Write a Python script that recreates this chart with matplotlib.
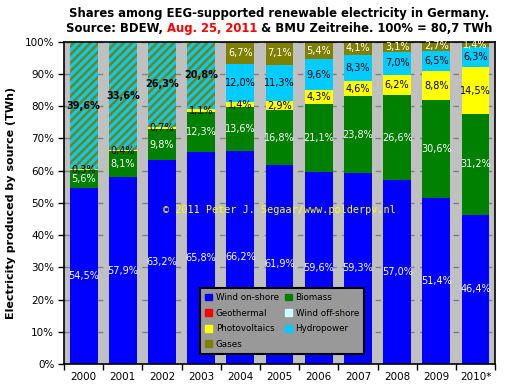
import matplotlib
matplotlib.use("Agg")
import matplotlib.pyplot as plt
from matplotlib.patches import Patch
import numpy as np

years = ["2000", "2001", "2002", "2003", "2004", "2005", "2006", "2007", "2008", "2009", "2010*"]
wind_on = [54.5, 57.9, 63.2, 65.8, 66.2, 61.9, 59.6, 59.3, 57.0, 51.4, 46.4]
biomass = [5.6, 8.1, 9.8, 12.3, 13.6, 16.8, 21.1, 23.8, 26.6, 30.6, 31.2]
pv = [0.3, 0.4, 0.7, 1.1, 1.4, 2.9, 4.3, 4.6, 6.2, 8.8, 14.5]
hydro_gas = [39.6, 33.6, 26.3, 20.8, 0, 0, 0, 0, 0, 0, 0]
hydro = [0, 0, 0, 0, 12.0, 11.3, 9.6, 8.3, 7.0, 6.5, 6.3]
gases = [0, 0, 0, 0, 6.7, 7.1, 5.4, 4.1, 3.1, 2.7, 1.4]

C_WIND = "#0000ff"
C_BIO = "#008000"
C_GEO = "#ff0000"
C_OFF = "#ccffff"
C_PV = "#ffff00"
C_HYD = "#00ccff"
C_GAS = "#808000"

plt.rcParams['hatch.linewidth'] = 1.8

fig = plt.figure(figsize=(5.12, 3.91), dpi=100)
ax = fig.add_axes([0.125, 0.069, 0.842, 0.824])
ax.set_facecolor("#c0c0c0")

x = np.arange(len(years))
w = 0.71

def fmt(v):
    return f"{v:.1f}%".replace(".", ",")

bottom = np.zeros(len(years))
series = [
    (wind_on, C_WIND, "white", False),
    (biomass, C_BIO, "white", False),
    (pv, C_PV, "black", False),
    (hydro_gas, None, "black", True),
    (hydro, C_HYD, "black", False),
    (gases, C_GAS, "white", False),
]
for vals, col, tcol, hatched in series:
    vals = np.array(vals)
    if hatched:
        ax.bar(x, vals, w, bottom=bottom, color=C_HYD, edgecolor=C_GAS,
               hatch="////", linewidth=0, zorder=2)
    else:
        ax.bar(x, vals, w, bottom=bottom, color=col, linewidth=0, zorder=2)
    for i, v in enumerate(vals):
        if v > 0:
            ax.text(x[i], bottom[i] + v / 2, fmt(v), ha="center", va="center",
                    fontsize=7, color=tcol,
                    fontweight="bold" if hatched else "normal", zorder=4)
    bottom = bottom + vals

ax.set_xlim(-0.5, len(years) - 0.5)
ax.set_ylim(0, 100)
ax.set_yticks(np.arange(0, 101, 10))
ax.set_yticklabels([f"{v}%" for v in range(0, 101, 10)], fontsize=7.5)
ax.set_xticks(x)
ax.set_xticklabels(years, fontsize=7.5)
ax.tick_params(axis="x", which="major", length=0, pad=6)
ax.set_xticks(np.arange(-0.5, len(years), 1), minor=True)
ax.tick_params(axis="x", which="minor", length=4, width=1)
ax.tick_params(axis="y", length=4, width=1, pad=3)
ax.yaxis.grid(True, color="#808080", linestyle=(0, (4, 4)), linewidth=1)
ax.set_axisbelow(True)
for s in ax.spines.values():
    s.set_linewidth(1.2)
    s.set_color("black")

ax.set_ylabel("Electricity produced by source (TWh)", fontsize=8, fontweight="bold", labelpad=6)

TX = 0.545
fig.text(TX, 0.965, "Shares among EEG-supported renewable electricity in Germany.",
         ha="center", va="center", fontsize=8.4, fontweight="bold")
parts = [("Source: BDEW, ", "black"), ("Aug. 25, 2011", "red"), (" & BMU Zeitreihe. 100% = 80,7 TWh", "black")]
fig.canvas.draw()
renderer = fig.canvas.get_renderer()
tmp = []
total = 0
for t, c in parts:
    tx = fig.text(0, 0, t, fontsize=8.4, fontweight="bold", color=c)
    bb = tx.get_window_extent(renderer)
    tmp.append((tx, bb.width))
    total += bb.width
start = TX * fig.bbox.width - total / 2
for tx, wd in tmp:
    tx.set_position((start / fig.bbox.width, 0.928))
    tx.set_va("center")
    start += wd

ax.text(0.5, 0.478, "\u00a9 2011 Peter J. Segaar/www.polderpv.nl", transform=ax.transAxes,
        ha="center", va="center", fontsize=7.3, color="#ffff00", family="DejaVu Sans Mono", zorder=5)

handles = [Patch(color=C_WIND, label="Wind on-shore"),
           Patch(color=C_GEO, label="Geothermal"),
           Patch(color=C_PV, label="Photovoltaics"),
           Patch(color=C_GAS, label="Gases"),
           Patch(color=C_BIO, label="Biomass"),
           Patch(color=C_OFF, label="Wind off-shore"),
           Patch(color=C_HYD, label="Hydropower")]
leg = ax.legend(handles=handles, ncol=2, loc="lower left", bbox_to_anchor=(0.316, 0.031),
                borderaxespad=0, fontsize=6.3, frameon=True, fancybox=False,
                handlelength=0.8, handleheight=0.8,
                handletextpad=0.4, columnspacing=0.7, labelspacing=0.75, borderpad=0.6)
leg.get_frame().set_facecolor("#999999")
leg.get_frame().set_edgecolor("black")
leg.get_frame().set_linewidth(1.5)
leg.get_frame().set_alpha(1)
leg.set_zorder(6)

fig.savefig("out.png", dpi=100, facecolor="white")
